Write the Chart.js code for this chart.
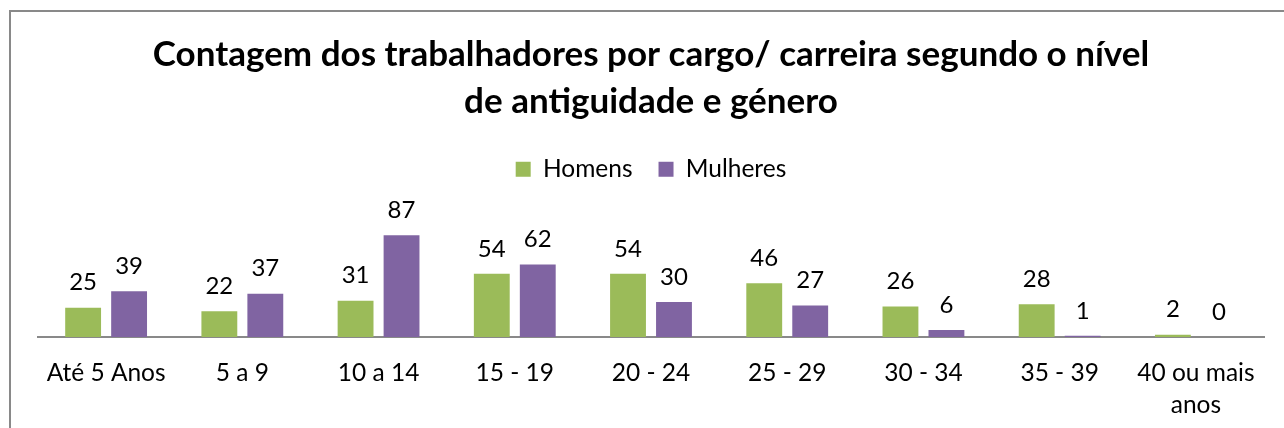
<!DOCTYPE html>
<html>
<head>
<meta charset="utf-8">
<script src="https://cdn.jsdelivr.net/npm/chart.js@4"></script>
<style>
  html, body { margin: 0; padding: 0; background: #fff; }
  #wrap { position: relative; width: 1284px; height: 428px; }
</style>
</head>
<body>
<div id="wrap"><canvas id="c" width="1284" height="428"></canvas></div>
<script>
const categories = ["Até 5 Anos", "5 a 9", "10 a 14", "15 - 19", "20 - 24", "25 - 29", "30 - 34", "35 - 39", ["40 ou mais", "anos"]];
const homens = [25, 22, 31, 54, 54, 46, 26, 28, 2];
const mulheres = [39, 37, 87, 62, 30, 27, 6, 1, 0];
const seriesNames = ["Homens", "Mulheres"];
const titleLines = ["Contagem dos trabalhadores por cargo/ carreira segundo o nível", "de antiguidade e género"];

const FONT = "Lato, 'Open Sans', sans-serif";

const frame = {
  id: 'frame',
  beforeDraw(chart) {
    const ctx = chart.ctx;
    ctx.save();
    ctx.strokeStyle = '#898989';
    ctx.lineWidth = 2;
    ctx.beginPath();
    ctx.moveTo(10, 428);
    ctx.lineTo(10, 11);
    ctx.lineTo(1284, 11);
    ctx.stroke();
    ctx.restore();
  }
};

const legendMargin = {
  id: 'legendMargin',
  beforeInit(chart) {
    const origFit = chart.legend.fit;
    chart.legend.fit = function () {
      origFit.bind(chart.legend)();
      this.height += 28.5;
    };
  }
};

const valueLabels = {
  id: 'valueLabels',
  afterDatasetsDraw(chart) {
    const ctx = chart.ctx;
    ctx.save();
    ctx.font = "24px " + FONT;
    ctx.fillStyle = '#000';
    ctx.textAlign = 'center';
    ctx.textBaseline = 'middle';
    chart.data.datasets.forEach((ds, di) => {
      const meta = chart.getDatasetMeta(di);
      meta.data.forEach((bar, i) => {
        ctx.fillText(String(ds.data[i]), bar.x, bar.y - 25);
      });
    });
    ctx.restore();
  }
};

new Chart(document.getElementById('c'), {
  type: 'bar',
  data: {
    labels: categories,
    datasets: [
      { label: seriesNames[0], data: homens, backgroundColor: '#9BBB59', categoryPercentage: 0.675, barPercentage: 0.78 },
      { label: seriesNames[1], data: mulheres, backgroundColor: '#8064A2', categoryPercentage: 0.675, barPercentage: 0.78 }
    ]
  },
  options: {
    responsive: false,
    animation: false,
    devicePixelRatio: 1,
    layout: { padding: { left: 38, right: 20, top: 22, bottom: 0 } },
    plugins: {
      title: {
        display: true,
        text: titleLines,
        color: '#000',
        font: { family: FONT, size: 35, weight: 'bold', lineHeight: 1.343 },
        padding: { top: 9, bottom: 6 }
      },
      legend: {
        display: true,
        position: 'top',
        labels: {
          color: '#000',
          font: { family: FONT, size: 24.5 },
          boxWidth: 15,
          boxHeight: 15,
          padding: 26
        }
      },
      tooltip: { enabled: false }
    },
    scales: {
      x: {
        grid: { display: false, drawTicks: false },
        border: { display: true, color: '#898989', width: 2 },
        ticks: { color: '#000', font: { family: FONT, size: 24.5, lineHeight: 1.27 }, padding: 21, maxRotation: 0, autoSkip: false },
        afterFit(scale) { scale.height = 91; }
      },
      y: {
        display: false,
        min: 0,
        max: 100
      }
    }
  },
  plugins: [frame, legendMargin, valueLabels]
});
</script>
</body>
</html>
